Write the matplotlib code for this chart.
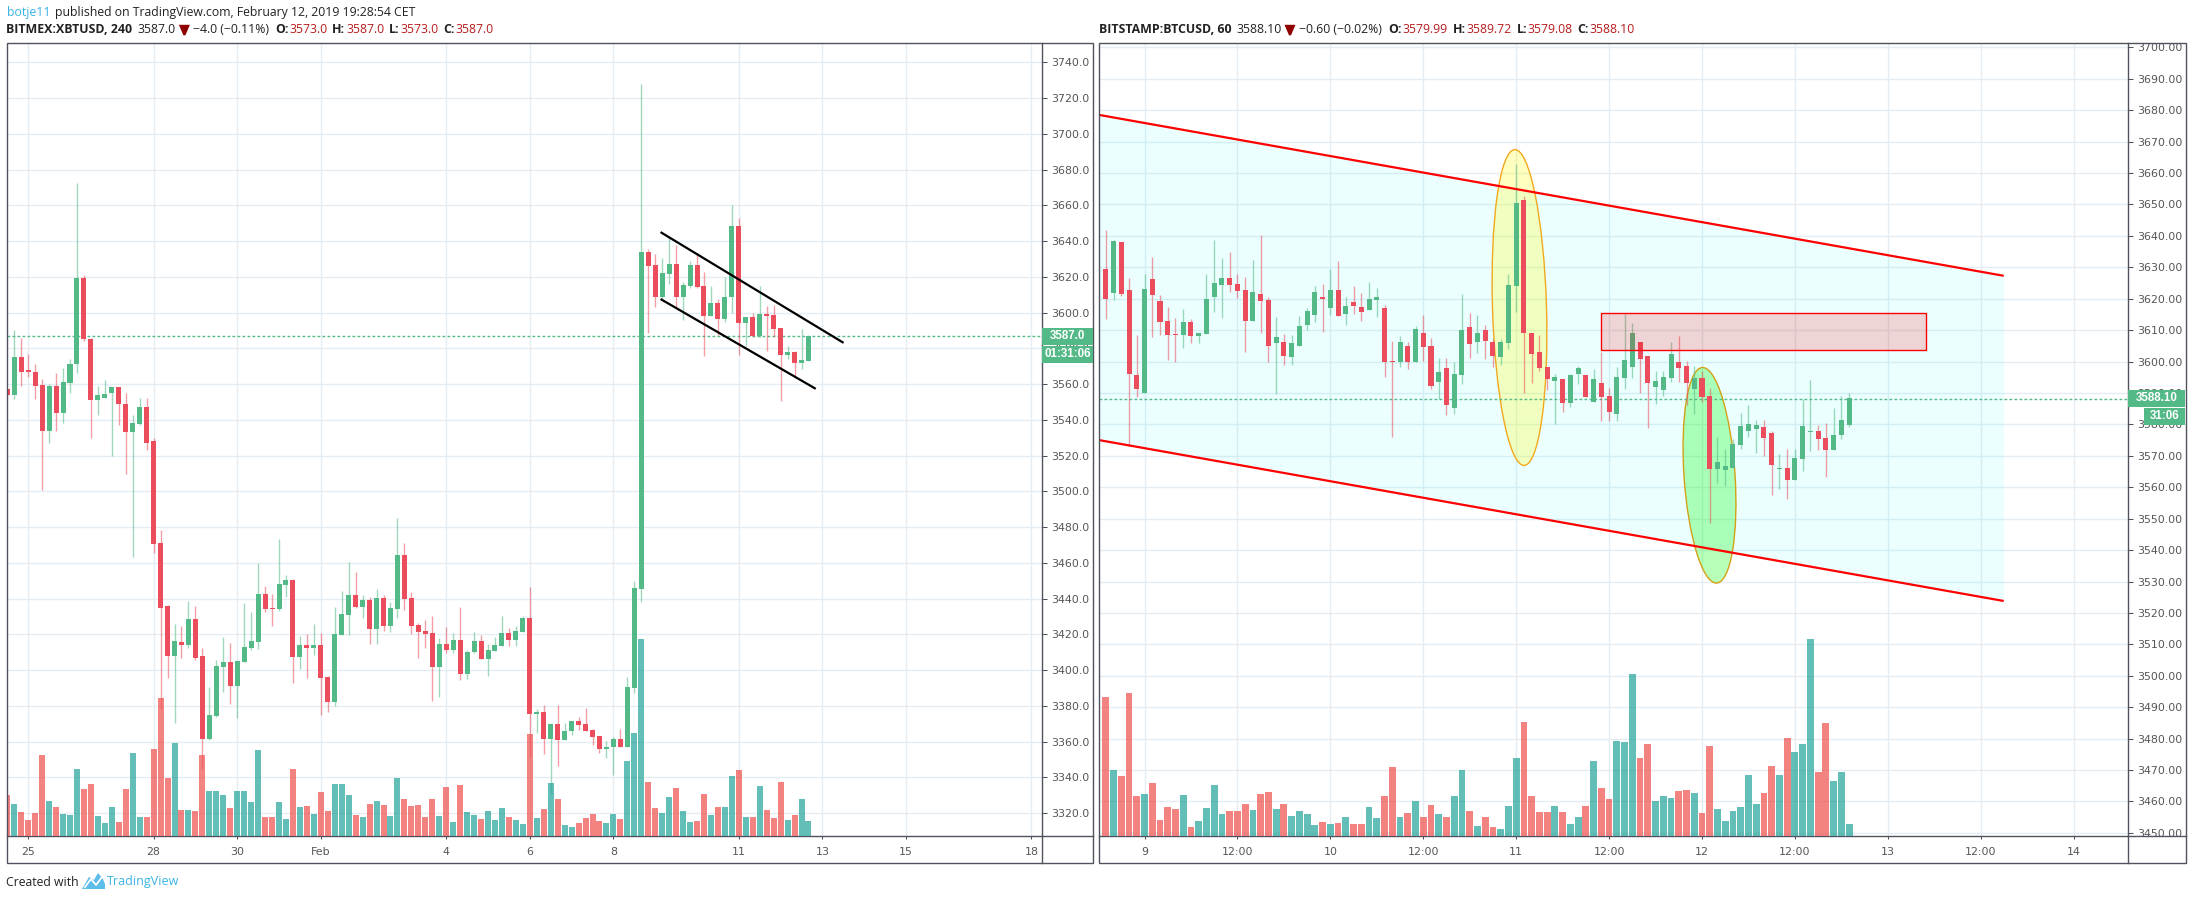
#!/usr/bin/env python3
"""Two TradingView candlestick screenshots side by side (XBTUSD 4h, BTCUSD 1h)."""
import numpy as np
import matplotlib
matplotlib.use("Agg")
import matplotlib.pyplot as plt
from matplotlib.patches import Ellipse, Polygon, Rectangle
from matplotlib.transforms import Affine2D

W, H = 2192, 900

GREEN = "#53b987"
RED = "#eb4d5c"
VOL_GREEN = "#26a69a"
VOL_RED = "#ef5350"
GRID = "#e4edf3"
FRAME = "#50535e"
TICK_TXT = "#555555"
BLUE = "#3bb3e4"
VAL_RED = "#b71c1c"

# ── left chart: BITMEX:XBTUSD, 240 ────────────────────────────────────────────
xbt_open = [3557, 3554, 3575, 3568, 3567, 3559.6, 3534, 3559, 3544, 3560.5, 3571, 3619.5,
            3585.5, 3551, 3552.5, 3555, 3558.5, 3549, 3533, 3537.5, 3547, 3528, 3471, 3436,
            3408, 3416, 3414, 3428.6, 3408, 3361.5, 3374.5, 3401.8, 3404.6, 3391, 3404.5, 3412.5,
            3416, 3442.5, 3434.7, 3434, 3447.6, 3450.4, 3407.3, 3414, 3412.4, 3414, 3396, 3382,
            3419.6, 3430.8, 3442, 3435.3, 3439.2, 3423, 3440.3, 3424.7, 3434.2, 3464.3, 3440.3, 3425.2,
            3421.9, 3420.7, 3401.7, 3414.6, 3411.3, 3416.8, 3398, 3410, 3416.3, 3406.3, 3410.7, 3413.5,
            3420.7, 3416.8, 3421.3, 3429, 3375.5, 3376.6, 3361.5, 3370, 3361, 3366, 3371.6, 3370,
            3366.5, 3363, 3356.2, 3356.8, 3361.5, 3356.8, 3390, 3445.3, 3633.7, 3626.4, 3609, 3621.4,
            3627, 3608.6, 3614.7, 3626.4, 3614.7, 3598, 3605.2, 3596.3, 3608.6, 3648.2, 3594, 3597.4,
            3586.8, 3599, 3598.5, 3591.2, 3576.2, 3577.8, 3571.7, 3572.8]
xbt_high = [3558, 3590, 3585.8, 3577, 3571, 3563, 3560, 3566, 3569, 3574, 3672.7, 3621,
            3586, 3559, 3562.5, 3558.5, 3558.5, 3555, 3543, 3552.5, 3552, 3530, 3478.3, 3436.5,
            3425.8, 3424.6, 3438.6, 3436, 3412.4, 3390.6, 3405.7, 3418.5, 3415, 3405.5, 3437.5, 3432.5,
            3460, 3447, 3442.5, 3473.3, 3453, 3451, 3419, 3420, 3425.8, 3421, 3396.8, 3435.3,
            3444.2, 3460.4, 3454.8, 3442, 3441, 3445.3, 3442, 3438, 3485, 3471, 3443.6, 3426.3,
            3428, 3430.2, 3418, 3424, 3420.7, 3435.3, 3411.3, 3421.3, 3419.6, 3414.6, 3418.5, 3430.2,
            3423.5, 3425, 3430.2, 3446.4, 3378.3, 3380.5, 3370.5, 3380.5, 3370.5, 3371.6, 3373.8, 3378.9,
            3367, 3363, 3360.6, 3362.6, 3367, 3396, 3449.8, 3728, 3635.4, 3633, 3630.4, 3642.5,
            3638, 3617, 3628.7, 3633.5, 3622.5, 3614.7, 3607.4, 3619.7, 3660.3, 3652.7, 3597.4, 3600,
            3614.7, 3603.5, 3604, 3591.2, 3581.2, 3578.4, 3590.7, 3587]
xbt_low = [3553, 3551.5, 3558.7, 3564, 3551.5, 3501, 3527, 3534, 3538, 3555, 3566, 3584,
           3530, 3543, 3552, 3520, 3537, 3509.6, 3463.4, 3537, 3523, 3465.4, 3378.3, 3395.6,
           3370.5, 3406.8, 3412.4, 3405.7, 3345, 3361, 3374, 3387.8, 3381, 3373, 3404.5, 3411.3,
           3412, 3432.5, 3425, 3433, 3440.9, 3393, 3400.6, 3395.6, 3408.4, 3375, 3376.6, 3380,
           3419.6, 3419.6, 3435, 3429, 3414.6, 3414.6, 3421.9, 3421.3, 3429, 3433.6, 3420.2, 3406.8,
           3412.4, 3382.8, 3385, 3409.5, 3409.5, 3394.5, 3395, 3409.5, 3406, 3396.7, 3410.7, 3413.5,
           3413.5, 3413.5, 3421.3, 3351.5, 3365, 3353, 3331, 3346.5, 3361, 3364, 3366.6, 3366,
           3358, 3353.7, 3351, 3341.4, 3356.8, 3356.8, 3387.5, 3438, 3588.5, 3603, 3607.4, 3615.8,
           3602.4, 3595.7, 3613.6, 3613.6, 3575.6, 3598, 3587.3, 3594.6, 3600, 3576.2, 3581.2, 3586.2,
           3586.2, 3578.4, 3586.2, 3550.5, 3574, 3563.3, 3568.3, 3572.8]
xbt_close = [3554, 3575, 3567, 3567, 3559, 3534, 3559, 3544, 3561, 3571, 3619.5, 3585,
             3551, 3554, 3554.5, 3558.5, 3549, 3533, 3538, 3547, 3527, 3470.5, 3435, 3408,
             3416.3, 3414, 3428.6, 3407, 3361.5, 3375, 3402.3, 3404.6, 3391, 3405, 3413, 3416.3,
             3442.5, 3434, 3434, 3448, 3450.4, 3407.3, 3414, 3412.4, 3414, 3395.6, 3382, 3420.2,
             3431.4, 3442, 3435.3, 3439.2, 3423, 3440.3, 3424.7, 3434.7, 3464.3, 3439.8, 3424.7, 3421.3,
             3420.2, 3401.7, 3414.6, 3411.3, 3416.8, 3398, 3410, 3416.3, 3406.3, 3411.3, 3414, 3420.7,
             3416.8, 3421.9, 3429, 3375.5, 3376.6, 3361.5, 3370, 3361, 3366, 3371.6, 3369.4, 3366,
             3362.6, 3356.2, 3357.3, 3361.5, 3356.8, 3390.5, 3446, 3633.7, 3625.9, 3609, 3622, 3627,
             3608.6, 3615.3, 3626.4, 3614.2, 3598, 3605.2, 3596.3, 3609, 3648.2, 3594, 3597.4, 3586.8,
             3599, 3598, 3590.7, 3576.2, 3577.8, 3571.7, 3573.4, 3587]
xbt_volume = [123, 96, 72, 48, 69, 243, 105, 87, 66, 63, 201, 141, 156, 60, 39, 87, 42, 141, 249, 57,
              57, 261, 414, 174, 279, 78, 78, 75, 243, 135, 135, 123, 84, 135, 135, 102, 258, 57, 57, 102,
              51, 201, 87, 90, 66, 132, 75, 156, 156, 123, 63, 57, 96, 105, 93, 60, 174, 111, 90, 93,
              57, 111, 60, 147, 42, 153, 72, 63, 51, 75, 48, 84, 57, 48, 36, 306, 54, 81, 159, 111,
              33, 27, 39, 54, 66, 45, 39, 66, 51, 225, 309, 591, 162, 84, 69, 117, 144, 75, 42, 45,
              127, 64, 88, 88, 181, 199, 58, 58, 151, 79, 55, 163, 49, 64, 112, 46]
xbt_ticks = [3, 21, 33, 45, 63, 75, 87, 105, 117, 129, 147]
xbt_tick_labels = ["25", "28", "30", "Feb", "4", "6", "8", "11", "13", "15", "18"]
xbt_prices = list(range(3320, 3741, 20))
xbt_flag_upper = ([93.9, 119.9], [3644.7, 3583.4])
xbt_flag_lower = ([93.9, 115.9], [3607.3, 3557.7])
xbt_last = 3587.0

# ── right chart: BITSTAMP:BTCUSD, 60 ──────────────────────────────────────────
btc_open = [3629.4, 3621.7, 3638, 3622.7, 3595.7, 3590, 3626.2, 3619.2, 3612.9, 3608.7, 3608.4, 3612.6,
            3608.1, 3608.9, 3620.4, 3624.4, 3626.6, 3624.7, 3622.7, 3612.9, 3621.5, 3619.5, 3605.9, 3606.2,
            3601.4, 3604.9, 3611.6, 3614.8, 3620.4, 3617, 3622.7, 3615, 3618.9, 3617.3, 3616.4, 3619.5,
            3617, 3600.1, 3599.8, 3604.9, 3599.8, 3609, 3604.9, 3593.6, 3597.8, 3585.3, 3595.7, 3611,
            3606.2, 3610, 3606.2, 3601.4, 3606, 3624, 3651.5, 3609, 3603, 3598.2, 3593.7, 3594.4,
            3586.7, 3596.2, 3595.6, 3587.1, 3593.2, 3589, 3583.4, 3594.7, 3598.2, 3606.2, 3601.8, 3592,
            3591, 3594.8, 3600, 3598.6, 3591.3, 3594.8, 3589, 3565.8, 3565.5, 3566.1, 3573.5, 3577.9,
            3578.6, 3579.2, 3577.3, 3565.8, 3566.1, 3562.3, 3569, 3577.6, 3577.9, 3575.7, 3571.9, 3576.6,
            3579.8]
btc_high = [3642, 3638.7, 3638, 3626.6, 3608.4, 3628, 3633.3, 3621.2, 3617.4, 3613.9, 3616.7, 3613.6,
            3609.2, 3628, 3638.7, 3633, 3634.9, 3627.9, 3627, 3632.3, 3640.2, 3620.4, 3614.2, 3608.7,
            3608.4, 3614.5, 3617, 3624, 3624.7, 3629.4, 3632, 3620.4, 3624, 3621.9, 3625.3, 3623.3,
            3618, 3606.5, 3608.1, 3606.2, 3611.3, 3614.8, 3607.5, 3601, 3601, 3600, 3621.5, 3615.5,
            3614.8, 3611.6, 3607.2, 3607.2, 3628, 3662.8, 3652.8, 3609, 3608.4, 3598.2, 3595.9, 3594.4,
            3596, 3598.5, 3595.7, 3597.6, 3603, 3591.5, 3598.4, 3615, 3612.3, 3606.2, 3601.8, 3597,
            3597, 3606.3, 3608.2, 3600.2, 3598.6, 3597, 3591.6, 3576, 3572.2, 3575.4, 3583.7, 3586.2,
            3581.4, 3581.4, 3577.9, 3570.6, 3572.2, 3572.2, 3588.2, 3594.2, 3579.8, 3580.5, 3585.2, 3589.1,
            3590]
btc_low = [3613.7, 3619.5, 3621, 3573, 3588.6, 3590, 3607.8, 3608.4, 3600.4, 3600, 3604.3, 3605.9,
           3605.9, 3608.8, 3615.7, 3614, 3622.2, 3620.1, 3603, 3612.9, 3609, 3599.8, 3589.6, 3599,
           3598.8, 3604.9, 3610, 3612.6, 3609.5, 3614.8, 3614.4, 3611.6, 3615, 3612.9, 3616.4, 3614.2,
           3595, 3576, 3598.2, 3597.6, 3599.8, 3600.2, 3591.4, 3588.1, 3583.1, 3583.4, 3592.8, 3601,
           3602.7, 3600.8, 3598.2, 3599, 3604, 3615.8, 3590, 3593.2, 3597, 3590.8, 3580, 3584,
           3585.7, 3592.8, 3588.6, 3587, 3581, 3581, 3581, 3591.4, 3594.7, 3590, 3578.9, 3586.5,
           3589, 3593.5, 3593.5, 3586.2, 3583.3, 3587.2, 3548.6, 3561.4, 3560.4, 3566, 3572.2, 3576,
           3571, 3570, 3557.5, 3559.4, 3556.3, 3562.3, 3565.2, 3571.6, 3571.9, 3563.3, 3571.9, 3575.4,
           3579.2]
btc_close = [3619.8, 3638.3, 3621.4, 3596, 3591.2, 3623, 3621.2, 3612.6, 3608.4, 3608.4, 3612.6, 3608.1,
             3609, 3619.8, 3625, 3626.6, 3624.4, 3622.5, 3612.9, 3622.1, 3619.2, 3604.9, 3607.8, 3601.7,
             3605.9, 3611.3, 3616.1, 3622.1, 3619.8, 3622.7, 3614.4, 3617.6, 3617.6, 3615.7, 3619.8, 3620.4,
             3599.8, 3599.8, 3606.2, 3599.8, 3610.4, 3604.6, 3592.1, 3596.8, 3586.3, 3596.2, 3610, 3605.6,
             3609, 3606.5, 3601.7, 3606.2, 3624.4, 3650.6, 3609, 3602.4, 3597.8, 3594.3, 3595.2, 3586.7,
             3595.6, 3597.8, 3588.6, 3594.4, 3588.7, 3584, 3595.2, 3600.6, 3609, 3600.8, 3593.2, 3593.8,
             3595.1, 3602.4, 3598, 3593.2, 3594.8, 3588.7, 3565.8, 3568, 3566.8, 3573.8, 3579.5, 3580.1,
             3579.8, 3575.7, 3567.1, 3566.1, 3562.3, 3569.3, 3579.5, 3577.9, 3575.4, 3571.9, 3576.6, 3581.4,
             3588.4]
btc_volume = [417, 198, 180, 429, 120, 126, 159, 48, 87, 81, 123, 27, 45, 84, 153, 66, 75, 75, 96, 78,
              126, 132, 81, 96, 60, 75, 66, 33, 42, 36, 39, 57, 36, 36, 87, 54, 120, 207, 57, 69,
              105, 57, 93, 66, 57, 120, 198, 75, 30, 57, 27, 21, 90, 234, 342, 120, 72, 72, 90, 72,
              36, 57, 90, 225, 144, 111, 285, 282, 486, 234, 276, 105, 120, 114, 135, 138, 129, 69, 270, 81,
              45, 75, 87, 183, 96, 129, 210, 183, 294, 252, 276, 591, 192, 339, 165, 192, 36]
btc_ticks = [5, 17, 29, 41, 53, 65, 77, 89, 101, 113, 125]
btc_tick_labels = ["9", "12:00", "10", "12:00", "11", "12:00", "12", "12:00", "13", "12:00", "14"]
btc_prices = list(range(3450, 3701, 10))
btc_channel_x = [-0.84, 115.97]
btc_channel_upper = [3678.5, 3627.3]
btc_channel_lower = [3575.0, 3523.8]
btc_zone_x = [63.9, 105.9]
btc_zone_y = [3603.6, 3615.4]
btc_last = 3588.10


# image-pixel coordinates (origin top left), used for the chrome around the charts
px = Affine2D().scale(1, -1).translate(0, H)


def make_axes(fig, left, right, top, bottom, xlim, ylim):
    rect = [left / W, 1 - bottom / H, (right - left) / W, (bottom - top) / H]
    ax = fig.add_axes(rect)
    ax.set_xlim(*xlim)
    ax.set_ylim(*ylim)
    vol = fig.add_axes(rect, sharex=ax, facecolor="none")
    vol.set_ylim(0, (bottom - top) * 3)
    vol.axis("off")
    return ax, vol


def style_axes(ax, ticks, labels, prices, fmt):
    ax.yaxis.tick_right()
    ax.set_xticks(ticks)
    ax.set_xticklabels(labels)
    ax.set_yticks(prices)
    ax.set_yticklabels([fmt.format(p) for p in prices])
    ax.tick_params(axis="y", length=3.6, width=0.75, color=FRAME, labelcolor=TICK_TXT,
                   labelsize=7.9, pad=3)
    ax.tick_params(axis="x", length=2.2, width=0.75, color=FRAME, labelcolor=TICK_TXT,
                   labelsize=7.9, pad=5.8)
    ax.grid(color=GRID, lw=1.0)
    ax.set_axisbelow(True)
    ax.spines["top"].set_visible(False)
    ax.spines["left"].set_visible(False)
    for side in ("right", "bottom"):
        ax.spines[side].set_color(FRAME)
        ax.spines[side].set_linewidth(1.0)


def draw_candles(ax, vol, o, h, l, c, v, body_w, vol_w):
    o, h, l, c = map(np.array, (o, h, l, c))
    idx = np.arange(len(o))
    up = c >= o
    colors = np.where(up, GREEN, RED)
    ax.vlines(idx, l, h, colors=colors, lw=1.0, alpha=0.55, zorder=3)
    ax.bar(idx, np.maximum(np.abs(c - o), 0.4), bottom=np.minimum(o, c), width=body_w,
           color=colors, lw=0, zorder=4)
    vol.bar(idx, v, width=vol_w, color=np.where(up, VOL_GREEN, VOL_RED), alpha=0.72, lw=0)


def put(fig, x, y, s, color="#222222", weight="normal", size=8.8, family="Open Sans"):
    fig.text(x, y, s, transform=px, color=color, fontweight=weight, fontsize=size,
             family=family, va="center", ha="left")


def legend_line(fig, y, name, last, change, tri_x, xs, vals):
    put(fig, xs[0], y, name, weight="bold", size=8.9)
    put(fig, xs[1], y, last)
    fig.add_artist(Polygon([(tri_x - 5.5, y - 4.5), (tri_x + 5.5, y - 4.5), (tri_x + 1, y + 6),
                            (tri_x - 1, y + 6)], transform=px, color="#8f0000", lw=0))
    put(fig, xs[2], y, change)
    for lab, x_lab, val, x_val in zip("OHLC", xs[3::2], vals, xs[4::2]):
        put(fig, x_lab, y, lab + ":", weight="bold", size=8.9)
        put(fig, x_val, y, val, color=VAL_RED)


def price_box(fig, x0, x1, y0, y1, s):
    fig.add_artist(Rectangle((x0, y0), x1 - x0, y1 - y0, transform=px, color=GREEN, lw=0, zorder=5))
    fig.text((x0 + x1) / 2, (y0 + y1) / 2, s, transform=px, color="white", fontweight="bold",
             fontsize=8.3, family="Liberation Sans", ha="center", va="center", zorder=6)


fig = plt.figure(figsize=(W / 100, H / 100), dpi=100, facecolor="white")

# ── left panel ────────────────────────────────────────────────────────────────
ax1, vol1 = make_axes(fig, 6.5, 1042.3, 43, 836.3, (-0.115, 148.56), (3307.1, 3750.8))
style_axes(ax1, xbt_ticks, xbt_tick_labels, xbt_prices, "{:.1f}")
draw_candles(ax1, vol1, xbt_open, xbt_high, xbt_low, xbt_close, xbt_volume, 0.72, 0.86)
ax1.axhline(xbt_last, color=GREEN, lw=1.0, ls=(0, (2, 1.6)), zorder=2)
ax1.plot(*xbt_flag_upper, color="black", lw=1.6, zorder=6)
ax1.plot(*xbt_flag_lower, color="black", lw=1.6, zorder=6)

# ── right panel ───────────────────────────────────────────────────────────────
ax2, vol2 = make_axes(fig, 1099.3, 2128.3, 43, 836.3, (-0.84, 132.06), (3448.9, 3701.4))
style_axes(ax2, btc_ticks, btc_tick_labels, btc_prices, "{:.2f}")
ax2.fill_between(btc_channel_x, btc_channel_lower, btc_channel_upper, color=(0, 1, 1), alpha=0.08,
                 lw=0, zorder=1)
ax2.add_patch(Ellipse((1519.5, 307.5), 54, 316, angle=-1.7, transform=px, facecolor=(1, 1, 0, 0.25),
                      edgecolor="#f2a81d", lw=1.0, zorder=2))
ax2.add_patch(Ellipse((1709.5, 475.3), 51, 216, angle=-3.85, transform=px, facecolor=(0, 1, 0, 0.28),
                      edgecolor="#d4a017", lw=1.0, zorder=2))
draw_candles(ax2, vol2, btc_open, btc_high, btc_low, btc_close, btc_volume, 0.65, 0.88)
ax2.add_patch(Rectangle((btc_zone_x[0], btc_zone_y[0]), btc_zone_x[1] - btc_zone_x[0],
                        btc_zone_y[1] - btc_zone_y[0], facecolor=(1, 0, 0, 0.17), edgecolor="red",
                        lw=1.0, zorder=5))
ax2.axhline(btc_last, color=GREEN, lw=1.0, ls=(0, (2, 1.6)), zorder=2)
ax2.plot(btc_channel_x, btc_channel_upper, color="red", lw=1.6, zorder=6, solid_capstyle="butt")
ax2.plot(btc_channel_x, btc_channel_lower, color="red", lw=1.6, zorder=6, solid_capstyle="butt")

# ── outer frames, price boxes ─────────────────────────────────────────────────
for x0, x1 in ((6.5, 1093.3), (1099.3, 2185.5)):
    fig.add_artist(Rectangle((x0, 43), x1 - x0, 820.3, transform=px, fill=False, edgecolor=FRAME, lw=1.0))
for x0, x1 in ((1042.3, 1093.3), (2128.3, 2185.5)):
    fig.add_artist(plt.Line2D([x0, x1], [836.3, 836.3], transform=px, color=FRAME, lw=1.0))
fig.add_artist(plt.Line2D([1042.3, 1042.3], [836.3, 863.3], transform=px, color=FRAME, lw=1.0))
fig.add_artist(plt.Line2D([2128.3, 2128.3], [836.3, 863.3], transform=px, color=FRAME, lw=1.0))

price_box(fig, 1042.3, 1093.3, 328, 344.7, "3587.0")
price_box(fig, 1042.3, 1093.3, 346, 362.7, "01:31:06")
price_box(fig, 2128.3, 2184.5, 390, 406.7, "3588.10")
price_box(fig, 2144, 2184.5, 408, 424.7, "31:06")

# ── header and footer text ────────────────────────────────────────────────────
put(fig, 6.5, 12.7, "botje11", color=BLUE)
put(fig, 55, 12.7, "published on TradingView.com, February 12, 2019 19:28:54 CET")
legend_line(fig, 29.3, "BITMEX:XBTUSD, 240", "3587.0", "\u22124.0 (\u22120.11%)", 184.4,
            [6.5, 137.3, 193, 275, 289, 332, 346, 389, 400, 443, 455],
            ["3573.0", "3587.0", "3573.0", "3587.0"])
legend_line(fig, 29.3, "BITSTAMP:BTCUSD, 60", "3588.10", "\u22120.60 (\u22120.02%)", 1290,
            [1099.3, 1236.4, 1299, 1388, 1402.5, 1452.5, 1466.4, 1516.8, 1527, 1577.5, 1589],
            ["3579.99", "3589.72", "3579.08", "3588.10"])

put(fig, 6.5, 882, "Created with", size=8.8)
put(fig, 106.7, 882, "TradingView", color=BLUE, size=9.0)
fig.add_artist(Polygon([(82, 889), (89, 877), (94, 880), (98, 873), (103, 879), (105, 884), (105, 889)],
                       transform=px, color="#5cbde8", lw=0))
fig.add_artist(plt.Line2D([85, 91, 96, 102], [887, 879, 885, 877], transform=px, color="white", lw=1.3))

fig.savefig("out.png", dpi=100, facecolor="white")
